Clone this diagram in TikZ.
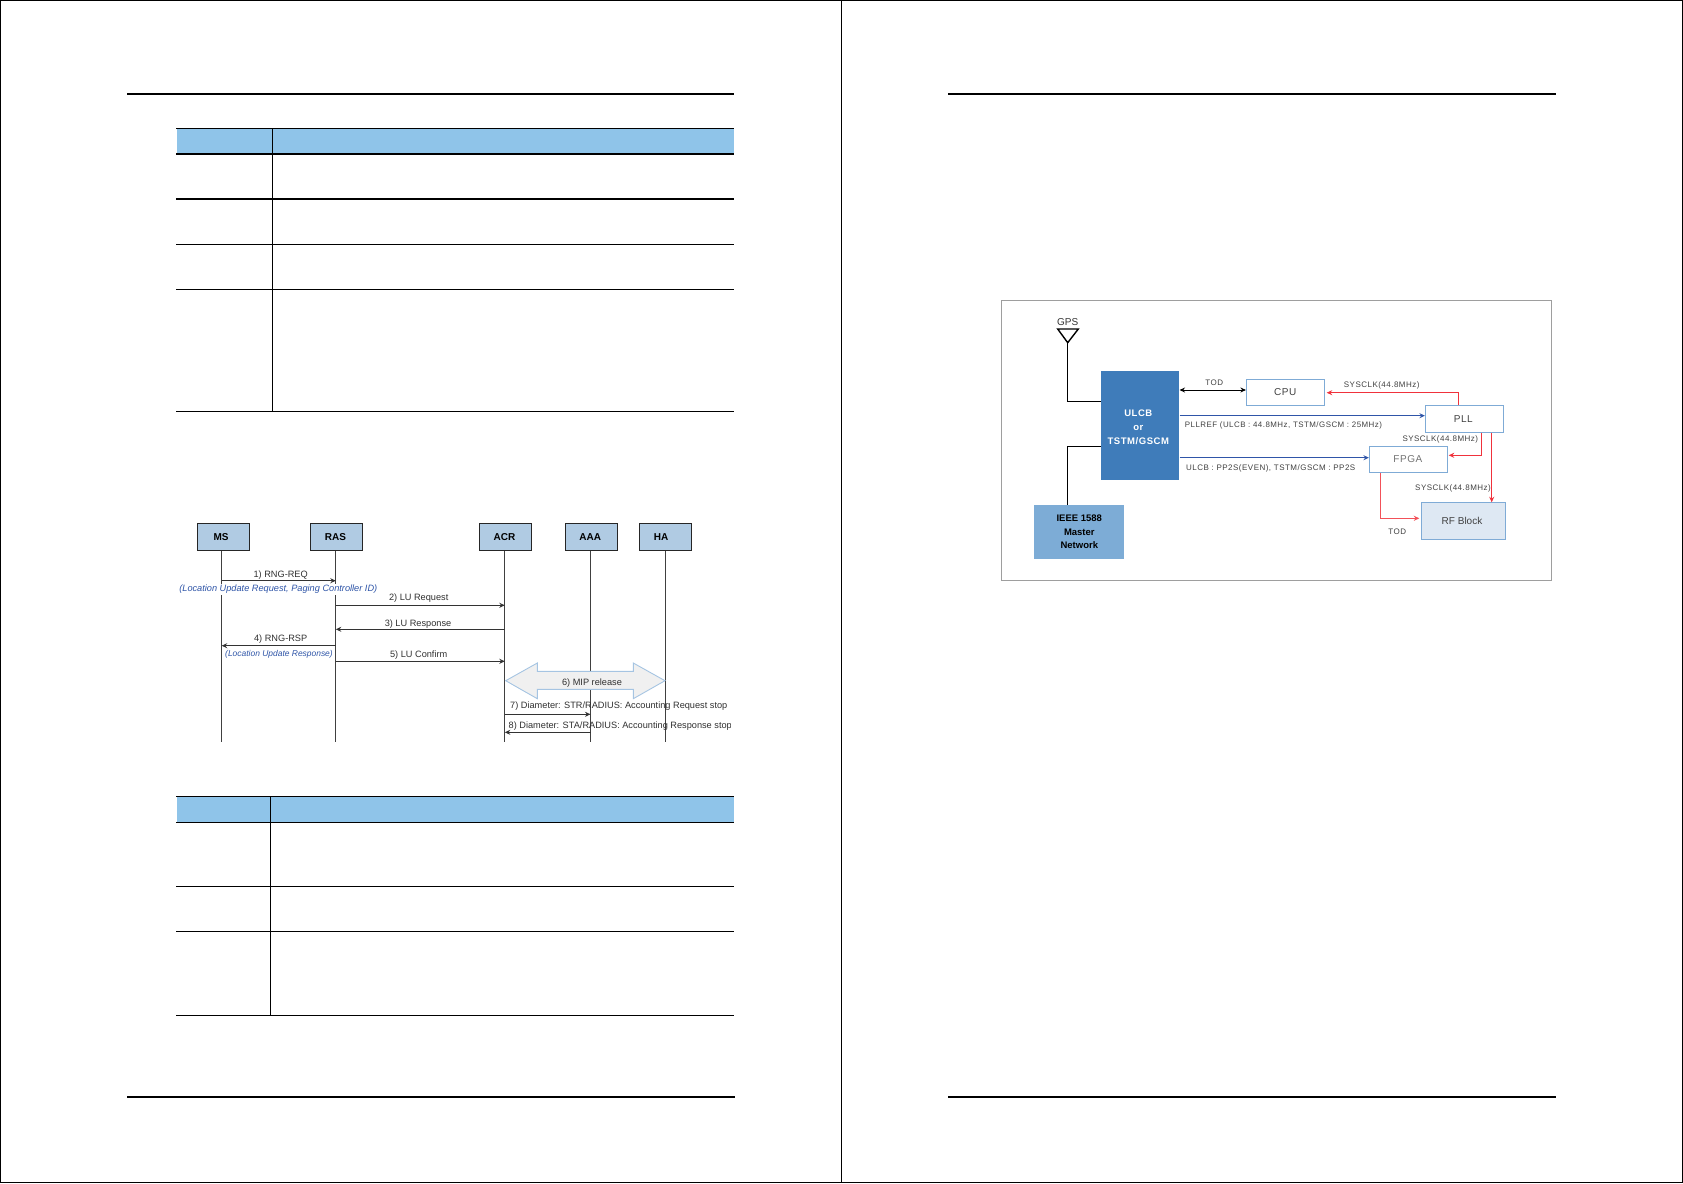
\documentclass[tikz,border=0pt]{standalone}
\usepackage{fontspec}
\setmainfont{Liberation Sans}
\newfontfamily\spaced[LetterSpace=6]{Liberation Sans}
\usetikzlibrary{arrows.meta}
\definecolor{hdr}{HTML}{8FC4E9}
\definecolor{seqbox}{HTML}{B0CBE3}
\definecolor{seqtxt}{HTML}{303030}
\definecolor{itblue}{HTML}{2F55A8}
\definecolor{mainbox}{HTML}{3F7CBA}
\definecolor{ieeebox}{HTML}{7DACD6}
\definecolor{rfbox}{HTML}{DEE8F3}
\definecolor{edgeblue}{HTML}{7FABD6}
\definecolor{sigred}{HTML}{F0323C}
\definecolor{sigblue}{HTML}{2F55A8}
\tikzset{
  pageline/.style={black,line width=1.3pt},
  ruleline/.style={black,line width=2pt},
  thinrow/.style={black,line width=1pt},
  thickrow/.style={black,line width=1.8pt},
  seqnode/.style={draw=black!85,line width=1.1pt,fill=seqbox,minimum width=52pt,minimum height=27pt,inner sep=0pt,font=\fontsize{10}{12}\selectfont\bfseries},
  lifeline/.style={draw=black!75,line width=1.1pt},
  msg/.style={draw=black!80,line width=0.9pt,-{Stealth[length=5.5pt,width=5pt]}},
  msgtext/.style={inner sep=0pt,text=seqtxt,font=\fontsize{9.2}{11}\selectfont},
  ittext/.style={inner sep=1pt,fill=white,text=itblue,font=\fontsize{9.2}{11}\selectfont\itshape},
  block/.style={draw=edgeblue,line width=0.8pt,fill=white,inner sep=0pt,font=\spaced\fontsize{10}{12}\selectfont,text=black!75},
  sigtext/.style={inner sep=0pt,text=black!75,font=\spaced\fontsize{8}{10}\selectfont},
  redsig/.style={draw=sigred,line width=1pt,-{Stealth[length=5.5pt,width=5pt]}},
  bluesig/.style={draw=sigblue,line width=1pt,-{Stealth[length=5.5pt,width=5pt]}},
  blackwire/.style={draw=black,line width=0.9pt}
}
\begin{document}
\begin{tikzpicture}[x=1pt,y=-1pt]
\useasboundingbox (0,0) rectangle (1683,1183);
% page frames
\draw[pageline] (0.7,0.7) rectangle (1682.5,1182.4);
\draw[pageline] (841.4,0.7) -- (841.4,1182.4);
% header and footer rules
\draw[ruleline] (127,93.8) -- (734,93.8);
\draw[ruleline] (948,93.8) -- (1556,93.8);
\draw[ruleline] (127,1097) -- (735,1097);
\draw[ruleline] (948,1097) -- (1556,1097);
% table 1
\fill[hdr] (176.5,128.5) rectangle (733.5,153.5);
\draw[thinrow] (176,128.5) -- (734,128.5);
\draw[thickrow] (176,153.8) -- (734,153.8);
\draw[thickrow] (176,199) -- (734,199);
\draw[thinrow] (176,244.3) -- (734,244.3);
\draw[thinrow] (176,289.3) -- (734,289.3);
\draw[thinrow] (176,411.3) -- (734,411.3);
\draw[thinrow] (272.3,128.5) -- (272.3,411.3);
% table 2
\fill[hdr] (176.5,796.3) rectangle (733.5,822.3);
\draw[thinrow] (176,796.3) -- (734,796.3);
\draw[thinrow] (176,822.3) -- (734,822.3);
\draw[thinrow] (176,886.3) -- (734,886.3);
\draw[thinrow] (176,931.3) -- (734,931.3);
\draw[thinrow] (176,1015.3) -- (734,1015.3);
\draw[thinrow] (270.3,796.3) -- (270.3,1015.3);
% sequence chart
\node[seqnode] (ms)  at (223.5,536.8) {\raisebox{-2pt}{MS}\kern5pt};
\node[seqnode] (ras) at (336.5,536.8) {\raisebox{-2pt}{RAS}\kern2pt};
\node[seqnode] (acr) at (505.5,536.8) {\raisebox{-2pt}{ACR}\kern2.2pt};
\node[seqnode] (aaa) at (591.5,536.8) {\raisebox{-2pt}{AAA}\kern2.4pt};
\node[seqnode] (ha)  at (665.5,536.8) {\raisebox{-2pt}{HA}\kern9pt};
\coordinate (msb)  at (221.7,741.7);
\coordinate (rasb) at (335.8,741.7);
\coordinate (acrb) at (504.8,741.7);
\coordinate (aaab) at (590.5,741.7);
\coordinate (hab)  at (665.2,741.7);
\draw[lifeline] (msb |- ms.south) -- (msb);
\draw[lifeline] (rasb |- ras.south) -- (rasb);
\draw[lifeline] (acrb |- acr.south) -- (acrb);
\draw[lifeline] (aaab |- aaa.south) -- (aaab);
\draw[lifeline] (hab |- ha.south) -- (hab);
\coordinate (m1) at (0,580.7);
\coordinate (m2) at (0,605.3);
\coordinate (m3) at (0,629.3);
\coordinate (m4) at (0,645.7);
\coordinate (m5) at (0,661.3);
\coordinate (m7) at (0,714.3);
\coordinate (m8) at (0,732.3);
\draw[msg] (msb |- m1) -- (rasb |- m1);
\draw[msg] (rasb |- m2) -- (acrb |- m2);
\draw[msg] (acrb |- m3) -- (rasb |- m3);
\draw[msg] (rasb |- m4) -- (msb |- m4);
\draw[msg] (rasb |- m5) -- (acrb |- m5);
\draw[msg] (acrb |- m7) -- (aaab |- m7);
\draw[msg] (aaab |- m8) -- (acrb |- m8);
\node[msgtext] (t1) at (280.7,574.7) {1) RNG-REQ};
\node[ittext] (i1) at (278.3,589.3) {(Location Update Request, Paging Controller ID)};
\node[msgtext] (t2) at (418.7,597.7) {2) LU Request};
\node[msgtext] (t3) at (418,623.7) {3) LU Response};
\node[msgtext] (t4) at (280.7,639.2) {4) RNG-RSP};
\node[ittext,font=\fontsize{8.45}{10}\selectfont\itshape] (i4) at (279,654) {(Location Update Response)};
\node[msgtext] (t5) at (418.7,654.7) {5) LU Confirm};
% MIP release double arrow
\draw[draw=edgeblue!70,line width=0.9pt,fill=black!6]
  (505.7,680.7) -- (537.3,663) -- (537.3,671.3) -- (633.3,671.3) -- (633.3,663) -- (665,680.7)
  -- (633.3,698.7) -- (633.3,689.3) -- (537.3,689.3) -- (537.3,698.7) -- cycle;
\node[msgtext] (t6) at (592,682.8) {6) MIP release};
\node[msgtext,anchor=west] (t7) at (510,706.5) {7) Diameter: STR/RADIUS: Accounting Request stop};
\begin{scope}
\clip (500,716) rectangle (730.5,738);
\node[msgtext,anchor=west] (t8) at (508.5,725.8) {8) Diameter: STA/RADIUS: Accounting Response stop};
\end{scope}
% clock diagram
\draw[draw=black!38,line width=1.3pt] (1001.3,300.7) rectangle (1551.7,580.6);
\node[inner sep=0pt,text=black!80,font=\fontsize{10}{12}\selectfont] (gpst) at (1067.7,322) {GPS};
\coordinate (gpsl) at (1057.7,329);
\coordinate (gpsr) at (1078.3,329);
\coordinate (gpsa) at (1067.7,342.7);
\draw[blackwire,line width=1.4pt,fill=white] (gpsl) -- (gpsr) -- (gpsa) -- cycle;
\node[fill=mainbox,inner sep=0pt,minimum width=78.3pt,minimum height=108.7pt] (main) at (1140.2,425.3) {};
\node[inner sep=0pt,text=white,align=center,font=\fontsize{9.5}{14}\selectfont\bfseries] (maint) at (1138.3,427) {\spaced ULCB\\\spaced or\\\spaced TSTM/GSCM};
\node[fill=ieeebox,inner sep=0pt,minimum width=90pt,minimum height=53.7pt] (ieee) at (1079.3,531.8) {};
\node[inner sep=0pt,text=black,align=center,font=\fontsize{9.5}{13.5}\selectfont\bfseries] (ieeet) at (1079.3,532) {IEEE 1588\\Master\\Network};
\node[block,minimum width=78pt,minimum height=26pt] (cpu) at (1285.3,392.3) {CPU};
\node[block,minimum width=78pt,minimum height=26.6pt] (pll) at (1464.3,419) {PLL\kern2pt};
\node[block,minimum width=78pt,minimum height=26.4pt,text=black!55] (fpga) at (1408.3,459.5) {FPGA\kern1pt};
\node[block,fill=rfbox,minimum width=83.6pt,minimum height=36.6pt,font=\fontsize{10}{12}\selectfont] (rf) at (1463.5,521) {RF Block\kern3pt};
\coordinate (gpsj) at (1067.7,401.3);
\coordinate (ieeej) at (1067.7,446.3);
\draw[blackwire] (gpsa) -- (gpsj) -- (gpsj -| main.west);
\draw[blackwire] (ieeej |- ieee.north) -- (ieeej) -- (ieeej -| main.west);
\coordinate (tody) at (0,390);
\draw[draw=black,line width=1pt,{Stealth[length=5.5pt,width=5pt]}-{Stealth[length=5.5pt,width=5pt]}] (main.east |- tody) -- (cpu.west |- tody);
\node[sigtext] (tod1) at (1214.3,383) {TOD};
\coordinate (b1) at (0,415.7);
\coordinate (b2) at (0,457.7);
\draw[bluesig] (main.east |- b1) -- (pll.west |- b1);
\draw[bluesig] (main.east |- b2) -- (fpga.west |- b2);
\node[sigtext,font=\spaced\fontsize{7.92}{10}\selectfont,anchor=west] (pllref) at (1184.7,425) {PLLREF (ULCB : 44.8MHz, TSTM/GSCM : 25MHz)};
\node[sigtext,anchor=west] (pp2s) at (1186,468) {ULCB : PP2S(EVEN), TSTM/GSCM : PP2S};
\coordinate (r1) at (1458.7,392.7);
\coordinate (r2) at (1481.7,455.3);
\coordinate (r3x) at (1491.7,470);
\coordinate (r4) at (1380.7,518.3);
\draw[redsig,shorten >=2pt] (r1 |- pll.north) -- (r1) -- (r1 -| cpu.east);
\draw[redsig,shorten >=1pt] (r2 |- pll.south) -- (r2) -- (r2 -| fpga.east);
\draw[redsig] (r3x |- pll.south) -- (r3x |- rf.north);
\draw[redsig,draw=sigred!85,shorten >=2pt] (r4 |- fpga.south) -- (r4) -- (r4 -| rf.west);
\node[sigtext] (sys1) at (1381.7,385) {SYSCLK(44.8MHz)};
\node[sigtext] (sys2) at (1440.3,439) {SYSCLK(44.8MHz)};
\node[sigtext] (sys3) at (1453,488) {SYSCLK(44.8MHz)};
\node[sigtext] (tod2) at (1397.3,532) {TOD};
\end{tikzpicture}
\end{document}
